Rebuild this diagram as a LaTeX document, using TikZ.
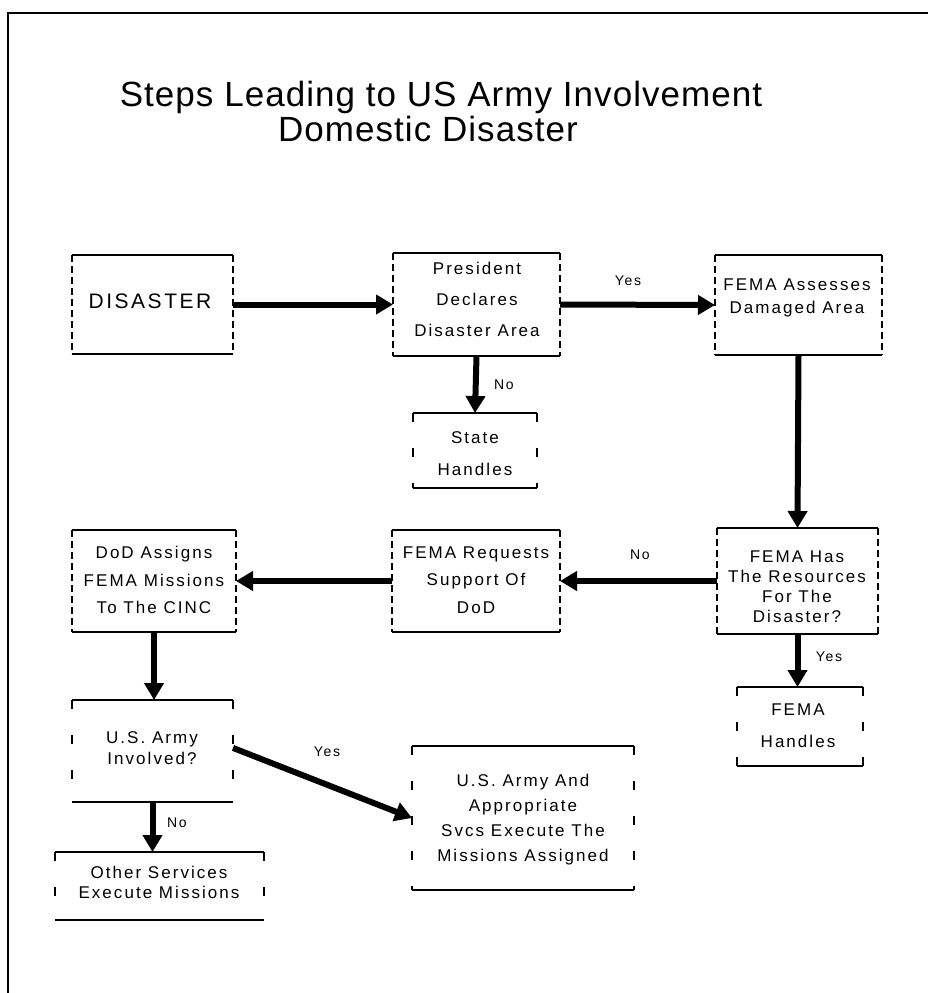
\documentclass[tikz,border=0pt]{standalone}
\usepackage{fontspec}
\setmainfont{Liberation Sans}
\newfontfamily\boxfont[LetterSpace=12]{Liberation Sans}
\newfontfamily\titlefont[LetterSpace=3]{Liberation Sans}
\usetikzlibrary{arrows.meta,calc}
\newcommand{\boxedges}[2]{%
  \draw[edge] (#1.north west) -- (#1.north east);
  \draw[edge] (#1.south west) -- (#1.south east);
  \draw[#2] (#1.north west) -- (#1.south west);
  \draw[#2] (#1.north east) -- (#1.south east);}
\begin{document}
\begin{tikzpicture}[x=1pt,y=-1pt,
  every node/.style={inner sep=0pt,outer sep=0pt},
  boxshape/.style={rectangle,draw=none},
  edge/.style={line width=2pt},
  frame/.style={line width=2pt},
  sidedash/.style={line width=1.3pt,dash pattern=on 7pt off 4pt},
  sidesparse/.style={line width=1.3pt,dash pattern=on 9pt off 26pt},
  flow/.style={line width=6pt,-{Triangle[length=17pt,width=19pt]}},
  txt/.style={font=\boxfont\fontsize{17}{23}\selectfont,align=center},
  lbl/.style={font=\boxfont\fontsize{14}{16}\selectfont},
  titlef/.style={font=\titlefont\fontsize{35}{40}\selectfont}
]
\useasboundingbox (0,0) rectangle (928,993);
% frame
\coordinate (fl) at (8,993);
\coordinate (ftl) at (8,13);
\coordinate (ftr) at (928,13);
\draw[frame] (fl) -- (ftl) -- (ftr);
% title
\node[titlef] (title1) at (441,97) {Steps Leading to US Army Involvement};
\node[titlef] (title2) at (428,129) {Domestic Disaster};
% boxes
\node[boxshape,minimum width=161pt,minimum height=99pt] (dis) at (152.5,304.5) {};
\node[boxshape,minimum width=167pt,minimum height=103pt] (pres) at (476.5,304.5) {};
\node[boxshape,minimum width=167pt,minimum height=100pt] (assess) at (798.5,305) {};
\node[boxshape,minimum width=124pt,minimum height=75pt] (state) at (475,450.5) {};
\node[boxshape,minimum width=161pt,minimum height=106pt] (has) at (797.5,581) {};
\node[boxshape,minimum width=126pt,minimum height=79pt] (handles) at (800,726.5) {};
\node[boxshape,minimum width=168pt,minimum height=102pt] (req) at (476,581) {};
\node[boxshape,minimum width=164pt,minimum height=102pt] (dod) at (154,581) {};
\node[boxshape,minimum width=161pt,minimum height=102pt] (army) at (152.5,751) {};
\node[boxshape,minimum width=209pt,minimum height=68pt] (other) at (159.5,886) {};
\node[boxshape,minimum width=222pt,minimum height=144pt] (big) at (523,818) {};
\boxedges{dis}{sidedash}
\boxedges{pres}{sidedash}
\boxedges{assess}{sidedash}
\boxedges{state}{sidesparse}
\boxedges{has}{sidedash}
\boxedges{handles}{sidesparse}
\boxedges{req}{sidedash}
\boxedges{dod}{sidedash}
\boxedges{army}{sidesparse}
\boxedges{other}{sidesparse}
\boxedges{big}{sidesparse}
% texts
\node[txt,font=\boxfont\fontsize{21}{23}\selectfont] (dist) at (150,301) {DISASTER};
\node[txt,font=\boxfont\fontsize{17}{31}\selectfont] (prest) at (477,299) {President\\Declares\\Disaster Area};
\node[txt,font=\boxfont\fontsize{17}{23}\selectfont] (assesst) at (797,298) {FEMA Assesses\\Damaged Area};
\node[txt,font=\boxfont\fontsize{17}{32}\selectfont] (statet) at (475,454) {State\\Handles};
\node[txt,font=\boxfont\fontsize{17}{20}\selectfont] (hast) at (797,587) {FEMA Has\\The Resources\\For The\\Disaster?};
\node[txt,font=\boxfont\fontsize{17}{32}\selectfont] (handlest) at (798,726) {FEMA\\Handles};
\node[txt,font=\boxfont\fontsize{17}{27.5}\selectfont] (reqt) at (476,580) {FEMA Requests\\Support Of\\DoD};
\node[txt,font=\boxfont\fontsize{17}{27.5}\selectfont] (dodt) at (154,580) {DoD Assigns\\FEMA Missions\\To The CINC};
\node[txt,font=\boxfont\fontsize{17}{21}\selectfont] (armyt) at (152,748) {U.S. Army\\Involved?};
\node[txt,font=\boxfont\fontsize{17}{20}\selectfont] (othert) at (159,882) {Other Services\\Execute Missions};
\node[txt,font=\boxfont\fontsize{17}{25}\selectfont] (bigt) at (523,820) {U.S. Army And\\Appropriate\\Svcs Execute The\\Missions Assigned};
% connectors
\draw[flow] (dis.east) -- (pres.west);
\draw[flow] (pres.east) -- (assess.west);
\draw[flow] (pres.south) -- (state.north);
\draw[flow] (assess.south) -- (has.north);
\draw[flow] (has.west) -- (req.east);
\draw[flow] (req.west) -- (dod.east);
\draw[flow] (dod.south) -- (dod.south |- army.north);
\draw[flow] (army.south) -- (army.south |- other.north);
\draw[flow] ($(army.north east)!0.47!(army.south east)$) -- (big.west);
\draw[flow] (has.south) -- (has.south |- handles.north);
% labels
\node[lbl] (lyes1) at (628,281) {Yes};
\node[lbl] (lno1) at (504,385) {No};
\node[lbl] (lno2) at (640,555) {No};
\node[lbl] (lyes2) at (829,657) {Yes};
\node[lbl] (lno3) at (177,823) {No};
\node[lbl] (lyes3) at (327,752) {Yes};
\end{tikzpicture}
\end{document}
